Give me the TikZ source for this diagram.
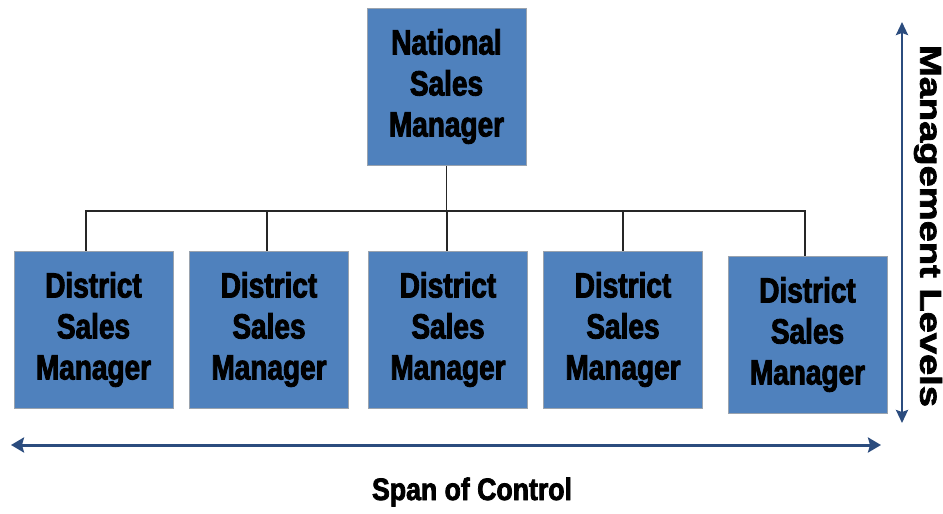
\documentclass[tikz,border=0pt]{standalone}
\usepackage{fontspec}
\setmainfont{Liberation Sans}[FakeStretch=0.8, BoldFeatures={FakeBold=2.5}]
\newfontfamily\spanfont{Liberation Sans}[FakeStretch=0.86, BoldFeatures={FakeBold=2.5}]
\newfontfamily\levfont{Liberation Sans}[FakeStretch=1.27, BoldFeatures={FakeBold=2.5}]
\usetikzlibrary{arrows.meta}
\definecolor{boxblue}{HTML}{4F81BD}
\definecolor{boxedge}{HTML}{9AA3AE}
\definecolor{arrowblue}{HTML}{2B4C7E}
\tikzset{
  mgr/.style={rectangle, fill=boxblue, draw=boxedge, line width=1pt,
    minimum width=159pt, minimum height=157pt, inner sep=0pt,
    align=center, font=\fontsize{35}{41}\selectfont\bfseries},
  conn/.style={draw=black!85, line width=1.3pt},
  bigarrow/.style={draw=arrowblue, line width=3pt,
    {Stealth[length=13pt,width=15pt,inset=2pt]}-{Stealth[length=13pt,width=15pt,inset=2pt]}},
  uparrow/.style={draw=arrowblue, line width=2.5pt,
    {Stealth[length=13pt,width=12pt,inset=2pt]}-{Stealth[length=13pt,width=12pt,inset=2pt]}},
  lbl/.style={inner sep=0pt, font=\fontsize{31}{36}\selectfont\bfseries}
}
\begin{document}
\begin{tikzpicture}[x=1pt,y=-1pt]
\useasboundingbox (0,0) rectangle (943,514);
\node[mgr] (top) at (446.5,86.5) {National\\Sales\\Manager};
\node[mgr] (b1) at (93.5,329.5) {District\\Sales\\Manager};
\node[mgr] (b2) at (269,329.5) {District\\Sales\\Manager};
\node[mgr] (b3) at (448,329.5) {District\\Sales\\Manager};
\node[mgr] (b4) at (623,329.5) {District\\Sales\\Manager};
\node[mgr] (b5) at (807.5,334.5) {District\\Sales\\Manager};
\coordinate (bus) at (446.5,211);
\draw[conn] (top.south) -- (bus);
\draw[conn] ([xshift=-7.5pt]b1.north) |- (bus);
\draw[conn] ([xshift=-2pt]b2.north) |- (bus);
\draw[conn] ([xshift=-1pt]b3.north) |- (bus);
\draw[conn] (b4.north) |- (bus);
\draw[conn] ([xshift=-2.5pt]b5.north) |- (bus);
\coordinate (hl) at (11,445);
\coordinate (hr) at (881,445);
\draw[bigarrow] (hl) -- (hr);
\coordinate (vt) at (902,22);
\coordinate (vb) at (902,423);
\draw[uparrow] (vb) -- (vt);
\node[lbl] (span) at (472,492) {\spanfont Span of Control};
\node[lbl, rotate=-90, font=\fontsize{30}{36}\selectfont\bfseries] (levels) at (928,226) {\levfont Management Levels};
\end{tikzpicture}
\end{document}
